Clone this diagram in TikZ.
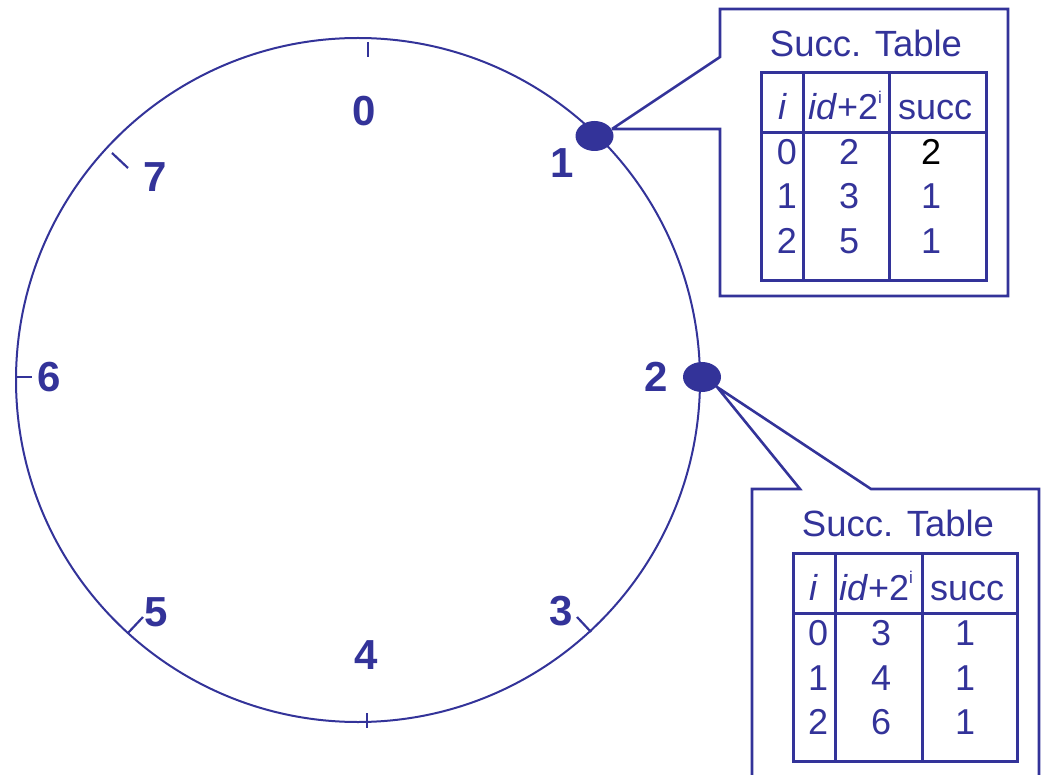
\documentclass[tikz,border=0pt]{standalone}
\usepackage{fontspec}
\setmainfont{Liberation Sans}
\usetikzlibrary{shapes.geometric}
\definecolor{ink}{RGB}{51,51,153}

\begin{document}
\begin{tikzpicture}[x=1pt,y=-1pt,
  ring/.style={draw=ink,line width=2pt},
  tick/.style={draw=ink,line width=2.2pt},
  lab/.style={text=ink,font=\fontsize{42}{42}\selectfont\bfseries,inner sep=0pt},
  dot/.style={ellipse,fill=ink,draw=none,inner sep=0pt,minimum width=38pt,minimum height=30pt},
  callout/.style={draw=ink,line width=2.6pt,line join=miter},
  grid/.style={draw=ink,line width=3pt},
  cell/.style={text=ink,font=\fontsize{36}{36}\selectfont,inner sep=0pt,anchor=base},
  title/.style={text=ink,font=\fontsize{36.5}{36.5}\selectfont,inner sep=0pt,anchor=base},
]
\useasboundingbox (0,0) rectangle (1041,775);

% identifier ring
\coordinate (c) at (358,380);
\draw[ring] (c) circle[radius=342];

% ticks
\draw[tick] (368,42) -- (368,57);
\draw[tick] (112,153) -- (128,168);
\draw[tick] (17,377) -- (32,377);
\draw[tick] (128,633) -- (143,617);
\draw[tick] (367,713) -- (367,728);
\draw[tick] (591,632) -- (577,617);

% ring labels
\node[lab] (l0) at (364,111) {0};
\node[lab] (l1) at (562,163) {1};
\node[lab] (l2) at (656,377) {2};
\node[lab] (l3) at (561,611) {3};
\node[lab] (l4) at (366,655) {4};
\node[lab] (l5) at (156,612) {5};
\node[lab] (l6) at (49,377) {6};
\node[lab] (l7) at (155,177) {7};

% ---------- successor table of node 1 ----------
\coordinate (t1) at (612,129);
\draw[callout] (t1) -- (720,129) -- (720,296) -- (1008,296) -- (1008,9)
  -- (720,9) -- (720,57) -- (t1);
\node[dot] (d1) at (594.5,136) {};

\node[title] (h1) at (866,57) {Succ. Table};
\draw[grid] (761,73) rectangle (986,281);
\draw[grid] (803,73) -- (803,281);
\draw[grid] (889,73) -- (889,281);
\draw[grid] (761,133) -- (986,133);

\node[cell] (a-i)  at (782,120) {\itshape i};
\node[cell] (a-id) at (845,120) {\textit{id}+2\raisebox{0.85ex}{\fontsize{17}{17}\selectfont i}};
\node[cell] (a-s)  at (935,120) {succ};
\node[cell] (a00) at (787,165) {0};
\node[cell] (a01) at (849,165) {2};
\node[cell,text=black] (a02) at (931,165) {2};
\node[cell] (a10) at (787,209) {1};
\node[cell] (a11) at (849,209) {3};
\node[cell] (a12) at (931,209) {1};
\node[cell] (a20) at (787,254) {2};
\node[cell] (a21) at (849,254) {5};
\node[cell] (a22) at (931,254) {1};

% ---------- successor table of node 2 ----------
\coordinate (t2) at (717,387);
\draw[callout] (752,790) -- (752,489) -- (800,489) -- (t2) -- (871,489)
  -- (1039,489) -- (1039,790);
\node[dot] (d2) at (702,377) {};

\node[title] (h2) at (898,536) {Succ. Table};
\draw[grid] (793,553) rectangle (1017,761);
\draw[grid] (835,553) -- (835,761);
\draw[grid] (922,553) -- (922,761);
\draw[grid] (793,613) -- (1017,613);

\node[cell] (b-i)  at (813,600) {\itshape i};
\node[cell] (b-id) at (876,600) {\textit{id}+2\raisebox{0.85ex}{\fontsize{17}{17}\selectfont i}};
\node[cell] (b-s)  at (967,600) {succ};
\node[cell] (b00) at (818,645) {0};
\node[cell] (b01) at (881,645) {3};
\node[cell] (b02) at (965,645) {1};
\node[cell] (b10) at (818,690) {1};
\node[cell] (b11) at (881,690) {4};
\node[cell] (b12) at (965,690) {1};
\node[cell] (b20) at (818,734) {2};
\node[cell] (b21) at (881,734) {6};
\node[cell] (b22) at (965,734) {1};
\end{tikzpicture}
\end{document}
